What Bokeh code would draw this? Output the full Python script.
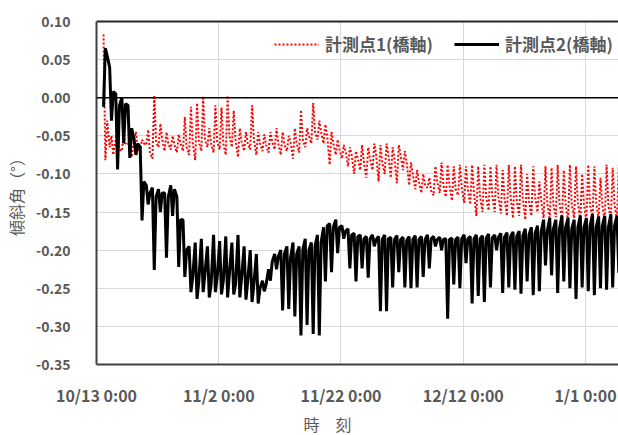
import numpy as np
from bokeh.plotting import figure
from bokeh.models import (ColumnDataSource, Span, Title, Legend, LegendItem,
                          FixedTicker, NumeralTickFormatter, LinearAxis, Range1d)
from bokeh.embed import file_html
from bokeh.resources import INLINE

# ---------------- data ----------------
# day index counted from 10/13 0:00
days = list(range(1, 86))
# three readings per day: early, midday, late
p2_early = [-0.012, 0.040, 0.005, 0.000, -0.010, -0.055, -0.065, -0.115, -0.118, -0.120,
            -0.125, -0.115, -0.130, -0.160, -0.195, -0.190, -0.185, -0.195, -0.180, -0.188,
            -0.182, -0.190, -0.180, -0.195, -0.200, -0.205, -0.240, -0.225, -0.205, -0.200,
            -0.195, -0.190, -0.195, -0.185, -0.190, -0.180, -0.170, -0.165, -0.160, -0.168,
            -0.172, -0.178, -0.180, -0.182, -0.180, -0.182, -0.180, -0.183, -0.181, -0.183,
            -0.182, -0.181, -0.182, -0.180, -0.182, -0.183, -0.185, -0.184, -0.183, -0.180,
            -0.182, -0.180, -0.181, -0.179, -0.180, -0.178, -0.177, -0.176, -0.175, -0.172,
            -0.170, -0.168, -0.160, -0.158, -0.160, -0.155, -0.158, -0.160, -0.155, -0.158,
            -0.153, -0.156, -0.155, -0.153, -0.155]
p2_mid = [0.065, -0.030, -0.094, -0.060, -0.079, -0.075, -0.161, -0.140, -0.226, -0.150,
          -0.210, -0.155, -0.222, -0.235, -0.255, -0.264, -0.255, -0.262, -0.255, -0.258,
          -0.262, -0.258, -0.262, -0.265, -0.268, -0.270, -0.254, -0.240, -0.225, -0.279,
          -0.277, -0.287, -0.312, -0.298, -0.310, -0.312, -0.241, -0.229, -0.204, -0.185,
          -0.224, -0.241, -0.224, -0.236, -0.195, -0.280, -0.280, -0.249, -0.229, -0.249,
          -0.250, -0.249, -0.235, -0.224, -0.195, -0.200, -0.290, -0.245, -0.250, -0.217,
          -0.270, -0.260, -0.268, -0.249, -0.200, -0.256, -0.249, -0.252, -0.257, -0.241,
          -0.259, -0.254, -0.220, -0.233, -0.256, -0.241, -0.250, -0.264, -0.249, -0.254,
          -0.259, -0.250, -0.252, -0.249, -0.230]
p2_late = [0.055, 0.008, -0.010, -0.008, -0.040, -0.060, -0.110, -0.125, -0.130, -0.125,
           -0.130, -0.120, -0.160, -0.200, -0.235, -0.240, -0.230, -0.245, -0.235, -0.240,
           -0.230, -0.245, -0.235, -0.240, -0.245, -0.250, -0.245, -0.215, -0.208, -0.205,
           -0.210, -0.205, -0.200, -0.200, -0.195, -0.190, -0.168, -0.170, -0.170, -0.175,
           -0.180, -0.182, -0.185, -0.185, -0.186, -0.186, -0.185, -0.186, -0.186, -0.187,
           -0.186, -0.186, -0.186, -0.185, -0.186, -0.186, -0.186, -0.186, -0.185, -0.185,
           -0.185, -0.185, -0.184, -0.184, -0.183, -0.183, -0.182, -0.182, -0.181, -0.180,
           -0.178, -0.176, -0.175, -0.172, -0.172, -0.170, -0.172, -0.170, -0.170, -0.168,
           -0.170, -0.168, -0.170, -0.168, -0.170]

p1_early = [0.083, -0.065, -0.055, -0.070, -0.062, -0.055, -0.068, -0.062, -0.080, -0.065,
            -0.070, -0.068, -0.072, -0.070, -0.075, -0.082, -0.070, -0.065, -0.072, -0.068,
            -0.075, -0.065, -0.078, -0.070, -0.068, -0.075, -0.070, -0.072, -0.068, -0.075,
            -0.070, -0.080, -0.072, -0.065, -0.060, -0.055, -0.060, -0.088, -0.075, -0.080,
            -0.090, -0.100, -0.095, -0.105, -0.095, -0.110, -0.100, -0.105, -0.112, -0.095,
            -0.115, -0.120, -0.125, -0.118, -0.128, -0.125, -0.130, -0.135, -0.128, -0.138,
            -0.140, -0.155, -0.150, -0.148, -0.150, -0.152, -0.155, -0.158, -0.155, -0.160,
            -0.155, -0.150, -0.158, -0.160, -0.157, -0.160, -0.162, -0.158, -0.160, -0.162,
            -0.158, -0.160, -0.163, -0.158, -0.160]
p1_mid = [-0.082, -0.050, -0.045, -0.048, -0.050, -0.045, -0.055, -0.042, 0.003, -0.034,
          -0.045, -0.050, -0.048, -0.025, -0.012, -0.007, 0.002, -0.040, -0.010, -0.013,
          0.003, -0.017, -0.040, -0.045, -0.010, -0.045, -0.048, -0.045, -0.040, -0.045,
          -0.050, -0.040, -0.016, -0.040, -0.007, -0.030, -0.035, -0.045, -0.055, -0.062,
          -0.065, -0.070, -0.062, -0.065, -0.060, -0.062, -0.060, -0.065, -0.062, -0.070,
          -0.085, -0.095, -0.100, -0.105, -0.090, -0.085, -0.088, -0.090, -0.088, -0.090,
          -0.088, -0.090, -0.088, -0.090, -0.088, -0.095, -0.088, -0.090, -0.088, -0.100,
          -0.090, -0.110, -0.090, -0.092, -0.088, -0.095, -0.088, -0.090, -0.100, -0.088,
          -0.090, -0.105, -0.088, -0.092, -0.088]
p1_late = [-0.030, -0.075, -0.068, -0.060, -0.078, -0.070, -0.060, -0.072, -0.058, -0.055,
           -0.060, -0.062, -0.060, -0.065, -0.060, -0.058, -0.055, -0.060, -0.058, -0.060,
           -0.050, -0.055, -0.058, -0.060, -0.055, -0.060, -0.062, -0.058, -0.060, -0.062,
           -0.058, -0.060, -0.055, -0.050, -0.045, -0.045, -0.050, -0.060, -0.068, -0.070,
           -0.075, -0.080, -0.085, -0.080, -0.075, -0.085, -0.075, -0.080, -0.075, -0.085,
           -0.100, -0.110, -0.115, -0.122, -0.110, -0.115, -0.115, -0.120, -0.118, -0.120,
           -0.125, -0.130, -0.130, -0.128, -0.130, -0.132, -0.130, -0.135, -0.132, -0.135,
           -0.130, -0.135, -0.138, -0.140, -0.138, -0.140, -0.140, -0.138, -0.140, -0.142,
           -0.138, -0.140, -0.142, -0.140, -0.140]

tick_days = [0, 20, 40, 60, 80]
tick_labels = ["10/13 0:00", "11/2 0:00", "11/22 0:00", "12/12 0:00", "1/1 0:00"]
y_ticks = [0.10, 0.05, 0.00, -0.05, -0.10, -0.15, -0.20, -0.25, -0.30, -0.35]
series_names = ["計測点1(橋軸)", "計測点2(橋軸)"]
x_title = "時　刻"
y_title = "傾斜角（°）"

# ---------------- build series ----------------
day_phase = [0.15, 0.45, 0.75]


def build(early, mid, late):
    xs, ys = [], []
    for d, a, b, c in zip(days, early, mid, late):
        for ph, v in zip(day_phase, (a, b, c)):
            xs.append(d + ph)
            ys.append(v)
    return xs, ys


x1, y1 = build(p1_early, p1_mid, p1_late)
x2, y2 = build(p2_early, p2_mid, p2_late)
src1 = ColumnDataSource(dict(x=x1, y=y1))
src2 = ColumnDataSource(dict(x=x2, y=y2))

GRAY = "#595959"
FONT = "Noto Sans CJK JP"

p = figure(width=618, height=435, output_backend="svg", toolbar_location=None,
           x_range=Range1d(0, 85.4), y_range=Range1d(-0.35, 0.10),
           min_border_left=95, min_border_right=0, min_border_top=21,
           min_border_bottom=57)
p.outline_line_color = None
p.background_fill_color = "white"

# grid
p.xgrid.ticker = FixedTicker(ticks=tick_days)
p.ygrid.ticker = FixedTicker(ticks=y_ticks)
p.xgrid.grid_line_color = "#d9d9d9"
p.ygrid.grid_line_color = "#d9d9d9"
p.xgrid.grid_line_width = 1
p.ygrid.grid_line_width = 1

# axes
xa = p.xaxis[0]
xa.ticker = FixedTicker(ticks=tick_days)
xa.major_label_overrides = {d: t for d, t in zip(tick_days, tick_labels)}
ya = p.yaxis[0]
ya.ticker = FixedTicker(ticks=y_ticks)
ya.formatter = NumeralTickFormatter(format="0.00")
for ax in (xa, ya):
    ax.axis_line_color = "#404040"
    ax.axis_line_width = 2
    ax.major_tick_line_color = None
    ax.minor_tick_line_color = None
    ax.major_label_text_font = FONT
    ax.major_label_text_font_style = "bold"
    ax.major_label_text_color = GRAY
ya.major_label_text_font_size = "14px"
xa.major_label_text_font_size = "16px"
ya.major_label_standoff = 20
xa.major_label_standoff = 12

ya.axis_label = y_title
ya.axis_label_standoff = 5
ya.axis_label_text_font = FONT
ya.axis_label_text_font_style = "normal"
ya.axis_label_text_font_size = "16px"
ya.axis_label_text_color = GRAY

top_axis = LinearAxis(ticker=FixedTicker(ticks=[]), axis_line_color="#262626",
                      axis_line_width=2, major_tick_line_color=None,
                      minor_tick_line_color=None, major_label_text_font_size="0px")
p.add_layout(top_axis, "above")

p.add_layout(Title(text=x_title, align="left", offset=207, text_font=FONT,
                   text_font_style="normal", text_font_size="16px",
                   text_color=GRAY, standoff=0), "below")

# zero line
p.add_layout(Span(location=0, dimension="width", line_color="black", line_width=1.5))

# series
r1 = p.line("x", "y", source=src1, line_color="#ff0000", line_width=2,
            line_dash="2 2")
r2 = p.line("x", "y", source=src2, line_color="black", line_width=3)

leg1 = Legend(items=[LegendItem(label=series_names[0], renderers=[r1])],
              location=(178, 308))
leg2 = Legend(items=[LegendItem(label=series_names[1], renderers=[r2])],
              location=(358, 308))
for lg in (leg1, leg2):
    lg.padding = 0
    lg.margin = 0
    lg.border_line_color = None
    lg.background_fill_alpha = 0
    lg.glyph_width = 45
    lg.glyph_height = 20
    lg.label_height = 20
    lg.label_standoff = 6
    lg.label_text_font = FONT
    lg.label_text_font_style = "bold"
    lg.label_text_font_size = "17px"
    lg.label_text_color = GRAY
    p.add_layout(lg, "center")

open("out.html", "w").write(file_html(p, INLINE))
